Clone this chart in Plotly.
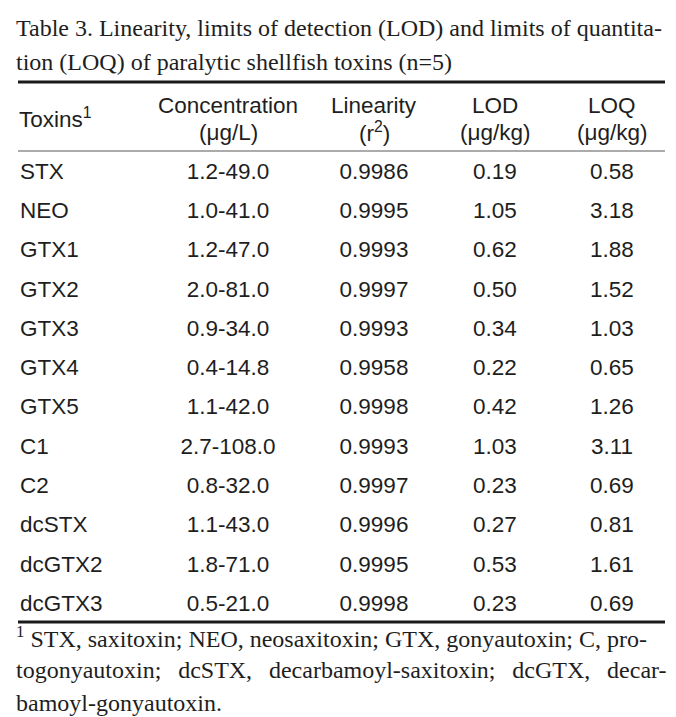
import plotly.graph_objects as go

# ---- data ----
toxins = ["STX", "NEO", "GTX1", "GTX2", "GTX3", "GTX4", "GTX5", "C1", "C2", "dcSTX", "dcGTX2", "dcGTX3"]
concentration = ["1.2-49.0", "1.0-41.0", "1.2-47.0", "2.0-81.0", "0.9-34.0", "0.4-14.8",
                 "1.1-42.0", "2.7-108.0", "0.8-32.0", "1.1-43.0", "1.8-71.0", "0.5-21.0"]
linearity = ["0.9986", "0.9995", "0.9993", "0.9997", "0.9993", "0.9958",
             "0.9998", "0.9993", "0.9997", "0.9996", "0.9995", "0.9998"]
lod = ["0.19", "1.05", "0.62", "0.50", "0.34", "0.22", "0.42", "1.03", "0.23", "0.27", "0.53", "0.23"]
loq = ["0.58", "3.18", "1.88", "1.52", "1.03", "0.65", "1.26", "3.11", "0.69", "0.81", "1.61", "0.69"]
headers_l1 = ["Concentration", "Linearity", "LOD", "LOQ"]
headers_l2 = ["(μg/L)", "(r<sup>2</sup>)", "(μg/kg)", "(μg/kg)"]
title_lines = ["Table 3. Linearity, limits of detection (LOD) and limits of quantita-",
               "tion (LOQ) of paralytic shellfish toxins (n=5)"]
foot_lines = ["<sup>1</sup> STX, saxitoxin; NEO, neosaxitoxin; GTX, gonyautoxin; C, pro-",
              "togonyautoxin; dcSTX, decarbamoyl-saxitoxin; dcGTX, decar-",
              "bamoyl-gonyautoxin."]

# ---- layout constants (pixels) ----
W, H = 676, 717
ROW0, STEP = 165, 39.3
COL_X = [220, 366, 487, 604]
LEFT = 12
SANS = "Liberation Sans, Arial, sans-serif"
SERIF = "Liberation Serif, Times New Roman, serif"
FS = 22.5
SFS = 24
INK = "#1e1e1e"
row_y = [ROW0 + STEP * i for i in range(len(toxins))]

WIDE_SPACE = "\u2002\u2009"  # widened word gap to mimic justified text


def justify(line):
    return line.replace(" ", WIDE_SPACE)


fig = go.Figure()
fig.add_trace(go.Scatter(x=[LEFT] * len(toxins), y=row_y, text=toxins, mode="text",
                         textposition="middle right", textfont=dict(family=SANS, size=FS, color=INK),
                         hoverinfo="skip", showlegend=False))
for cx, col in zip(COL_X, [concentration, linearity, lod, loq]):
    fig.add_trace(go.Scatter(x=[cx] * len(col), y=row_y, text=col, mode="text",
                             textposition="middle center",
                             textfont=dict(family=SANS, size=FS, color=INK),
                             hoverinfo="skip", showlegend=False))

ann = []
for i, t in enumerate(title_lines):
    ann.append(dict(x=6, y=20 + 34 * i, text=t, xanchor="left", yanchor="middle", showarrow=False,
                    font=dict(family=SERIF, size=SFS, color=INK)))
ann.append(dict(x=LEFT - 3, y=110, text="Toxins<sup>1</sup>", xanchor="left", yanchor="middle", showarrow=False,
                font=dict(family=SANS, size=FS, color=INK)))
for cx, h1, h2 in zip(COL_X, headers_l1, headers_l2):
    ann.append(dict(x=cx, y=97, text=h1, xanchor="center", yanchor="middle", showarrow=False,
                    font=dict(family=SANS, size=FS, color=INK)))
    ann.append(dict(x=cx, y=124, text=h2, xanchor="center", yanchor="middle", showarrow=False,
                    font=dict(family=SANS, size=FS, color=INK)))
foot_text = [foot_lines[0], justify(foot_lines[1]), foot_lines[2]]
for i, t in enumerate(foot_text):
    ann.append(dict(x=6, y=629 + 33 * i, text=t, xanchor="left", yanchor="middle", showarrow=False,
                    font=dict(family=SERIF, size=SFS, color=INK)))

shapes = [
    dict(type="line", x0=10, x1=657, y0=74, y1=74, line=dict(color="#1a1a1a", width=3)),
    dict(type="line", x0=10, x1=657, y0=143, y1=143, line=dict(color="#8f8f8f", width=1.5)),
    dict(type="line", x0=10, x1=657, y0=614, y1=614, line=dict(color="#1a1a1a", width=3)),
]

fig.update_layout(width=W, height=H, margin=dict(l=0, r=0, t=0, b=0),
                  paper_bgcolor="white", plot_bgcolor="white",
                  xaxis=dict(range=[0, W], visible=False, fixedrange=True),
                  yaxis=dict(range=[H, 0], visible=False, fixedrange=True),
                  annotations=ann, shapes=shapes)
fig.write_html("out.html")
